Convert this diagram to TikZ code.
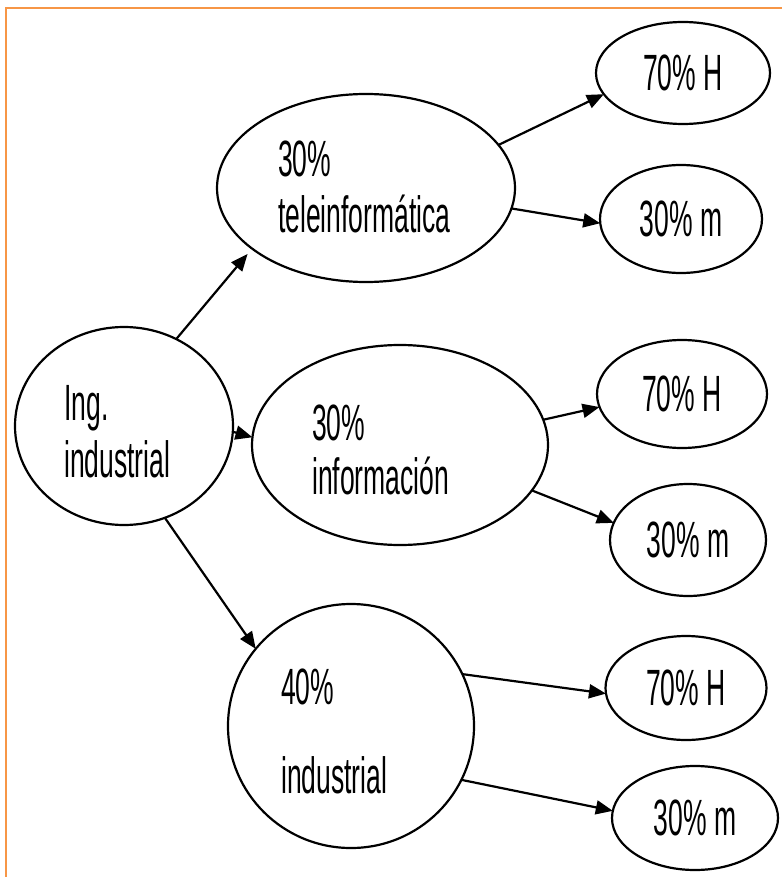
\documentclass[tikz,border=0pt]{standalone}
\usepackage{fontspec}
\setmainfont{Liberation Sans}[FakeStretch=0.52]
\usetikzlibrary{shapes.geometric,arrows.meta}
\definecolor{borderorange}{RGB}{247,150,70}
\begin{document}
\begin{tikzpicture}[x=1pt,y=-1pt,
  bub/.style={ellipse,draw,line width=2.2pt,inner sep=0pt,outer sep=0pt},
  arr/.style={line width=2.2pt,-{Triangle[length=17pt,width=14pt]}},
  lbl/.style={anchor=base west,inner sep=0pt},
  every node/.style={font=\fontsize{51}{56}\selectfont}]
\useasboundingbox (0,0) rectangle (782,877);
\draw[borderorange,line width=2.5pt] (6,877) -- (6,8) -- (782,8);
% large ellipses
\node[bub,minimum width=218pt,minimum height=198pt] (ing) at (124,426) {};
\node[bub,minimum width=298pt,minimum height=188pt] (tele) at (366,188) {};
\node[bub,minimum width=296pt,minimum height=200pt] (info) at (400,445) {};
\node[bub,minimum width=246pt,minimum height=244pt] (ind) at (351,726) {};
% small ellipses
\node[bub,minimum width=174pt,minimum height=102pt] (h1) at (683,73) {70\% H};
\node[bub,minimum width=162pt,minimum height=108pt] (m1) at (681,219) {30\% m};
\node[bub,minimum width=170pt,minimum height=108pt] (h2) at (682,394) {70\% H};
\node[bub,minimum width=156pt,minimum height=112pt] (m2) at (688,540) {30\% m};
\node[bub,minimum width=161pt,minimum height=104pt] (h3) at (686,688) {70\% H};
\node[bub,minimum width=166pt,minimum height=104pt] (m3) at (695,818) {30\% m};
% texts of large ellipses
\node[lbl] (ingA) at (64,420) {Ing.};
\node[lbl] (ingB) at (64,477) {industrial};
\node[lbl] (teleA) at (278,177) {30\%};
\node[lbl] (teleB) at (278,233) {teleinformática};
\node[lbl] (infoA) at (312,440) {30\%};
\node[lbl] (infoB) at (312,494) {información};
\node[lbl] (indA) at (281,704) {40\%};
\node[lbl] (indB) at (281,793) {industrial};
% connectors
\draw[arr,shorten >=7pt] (ing.59) -- (tele.208.6);
\draw[arr] (ing.-3) -- (info.177);
\draw[arr] (ing.-66) -- (ind.141);
\draw[arr] (tele.18) -- (h1.195);
\draw[arr] (tele.-8.5) -- (m1.183);
\draw[arr] (info.10) -- (h2.189);
\draw[arr] (info.-19) -- (m2.167);
\draw[arr] (ind.25) -- (h3.184);
\draw[arr] (ind.-26) -- (m3.175);
\end{tikzpicture}
\end{document}
